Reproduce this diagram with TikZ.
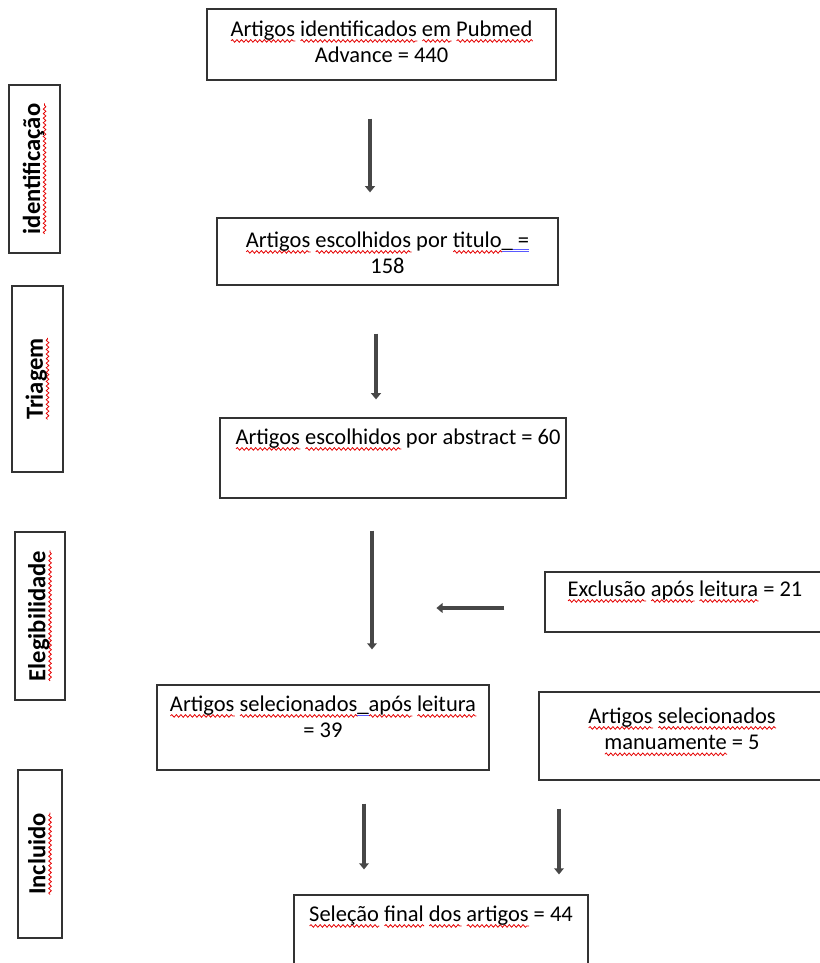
\documentclass[tikz,border=0pt]{standalone}
\usepackage{fontspec}
\setmainfont{Carlito}
\usetikzlibrary{arrows.meta,positioning,decorations.pathmorphing}

% spelling and grammar marks
\newsavebox\markbox
\newcommand\spl[1]{\sbox\markbox{#1}\rlap{\raisebox{-2.6pt}{\tikz[x=1pt,y=1pt,baseline=0pt]\draw[red!90!black, line width=0.45pt, decorate, decoration={snake, amplitude=0.75pt, segment length=2.6pt}] (0,0) -- (\wd\markbox,0);}}\usebox\markbox}
\newcommand\gram[1]{\sbox\markbox{#1}\rlap{\raisebox{-2.4pt}{\color{blue!65}\vbox{\hrule width\wd\markbox height0.35pt\kern0.8pt\hrule width\wd\markbox height0.35pt}}}\usebox\markbox}

\begin{document}
\begin{tikzpicture}[
    x=0.02cm, y=-0.02cm,
    >={Triangle[length=3.5pt,width=5.5pt]},
    box/.style={rectangle, draw=black!80, line width=0.7pt, inner sep=0pt},
    txt/.style={inner sep=0pt, align=center, font=\fontsize{12.8}{15}\selectfont},
    phase/.style={rectangle, draw=black!80, line width=0.7pt, rotate=90, inner sep=0pt, font=\bfseries\fontsize{14}{16}\selectfont},
    flow/.style={->, line width=2.4pt, draw=black!72}
  ]
  \useasboundingbox (0,0) rectangle (819,963);

  % Phases
  \node [phase, minimum width=3.36cm, minimum height=1.02cm] (identificacao) at (34.5,169) {\spl{identificação}};
  \node [phase, minimum width=3.72cm, minimum height=1.02cm] (triagem) at (37.5,379) {\spl{Triagem}};
  \node [phase, minimum width=3.36cm, minimum height=1.0cm] (elegibilidade) at (40,616) {\spl{Elegibilidade}};
  \node [phase, minimum width=3.36cm, minimum height=0.88cm] (incluido) at (40,854) {\spl{Incluido}};

  % Blocks
  \node [box, minimum width=6.98cm, minimum height=1.42cm] (ident) at (381.5,44.5) {};
  \node [box, minimum width=6.82cm, minimum height=1.34cm] (titulo) at (387.5,251.5) {};
  \node [box, minimum width=6.92cm, minimum height=1.6cm] (abstract) at (393,458) {};
  \node [box, minimum width=5.6cm, minimum height=1.2cm] (excl) at (685,602) {};
  \node [box, minimum width=6.64cm, minimum height=1.7cm] (selec) at (323,727.5) {};
  \node [box, minimum width=5.72cm, minimum height=1.76cm] (manual) at (682,736) {};
  \node [box, minimum width=5.88cm, minimum height=1.8cm] (final) at (441,940) {};

  % Texts
  \node [txt, below=0.24cm of ident.north] (ident-txt) {\spl{Artigos} \spl{identificados} \spl{em} \spl{Pubmed}\\Advance = 440};
  \node [txt, below=0.28cm of titulo.north] (titulo-txt) {\spl{Artigos} \spl{escolhidos} por \spl{titulo}\gram{\_ =}\\158};
  \node [txt, below=0.22cm of abstract.north, xshift=0.1cm] (abstract-txt) {\spl{Artigos} \spl{escolhidos} por abstract = 60};
  \node [txt, below=0.18cm of excl.north] (excl-txt) {\spl{Exclusão} \spl{após} \spl{leitura} = 21};
  \node [txt, below=0.22cm of selec.north] (selec-txt) {\spl{Artigos} \spl{selecionados}\gram{\_}\spl{após} \spl{leitura}\\= 39};
  \node [txt, below=0.32cm of manual.north] (manual-txt) {\spl{Artigos} \spl{selecionados}\\\spl{manuamente} = 5};
  \node [txt, below=0.22cm of final.north] (final-txt) {\spl{Seleção} \spl{final} \spl{dos} \spl{artigos} = 44};

  % Connections
  \draw [flow] ([shift={(-11.5,38)}]ident.south) -- ([shift={(-17.5,-25)}]titulo.north);
  \draw [flow] ([shift={(-11.5,48)}]titulo.south) -- ([shift={(-17,-18)}]abstract.north);
  \draw [flow] ([shift={(-21,32)}]abstract.south) -- ([shift={(49,-35)}]selec.north);
  \draw [flow] ([shift={(-40,6)}]excl.west) -- ++(-68,0);
  \draw [flow] ([shift={(41,33)}]selec.south) -- ([shift={(-77,-25)}]final.north);
  \draw [flow] ([shift={(-123,28)}]manual.south) -- ([shift={(118,-20)}]final.north);
\end{tikzpicture}
\end{document}
